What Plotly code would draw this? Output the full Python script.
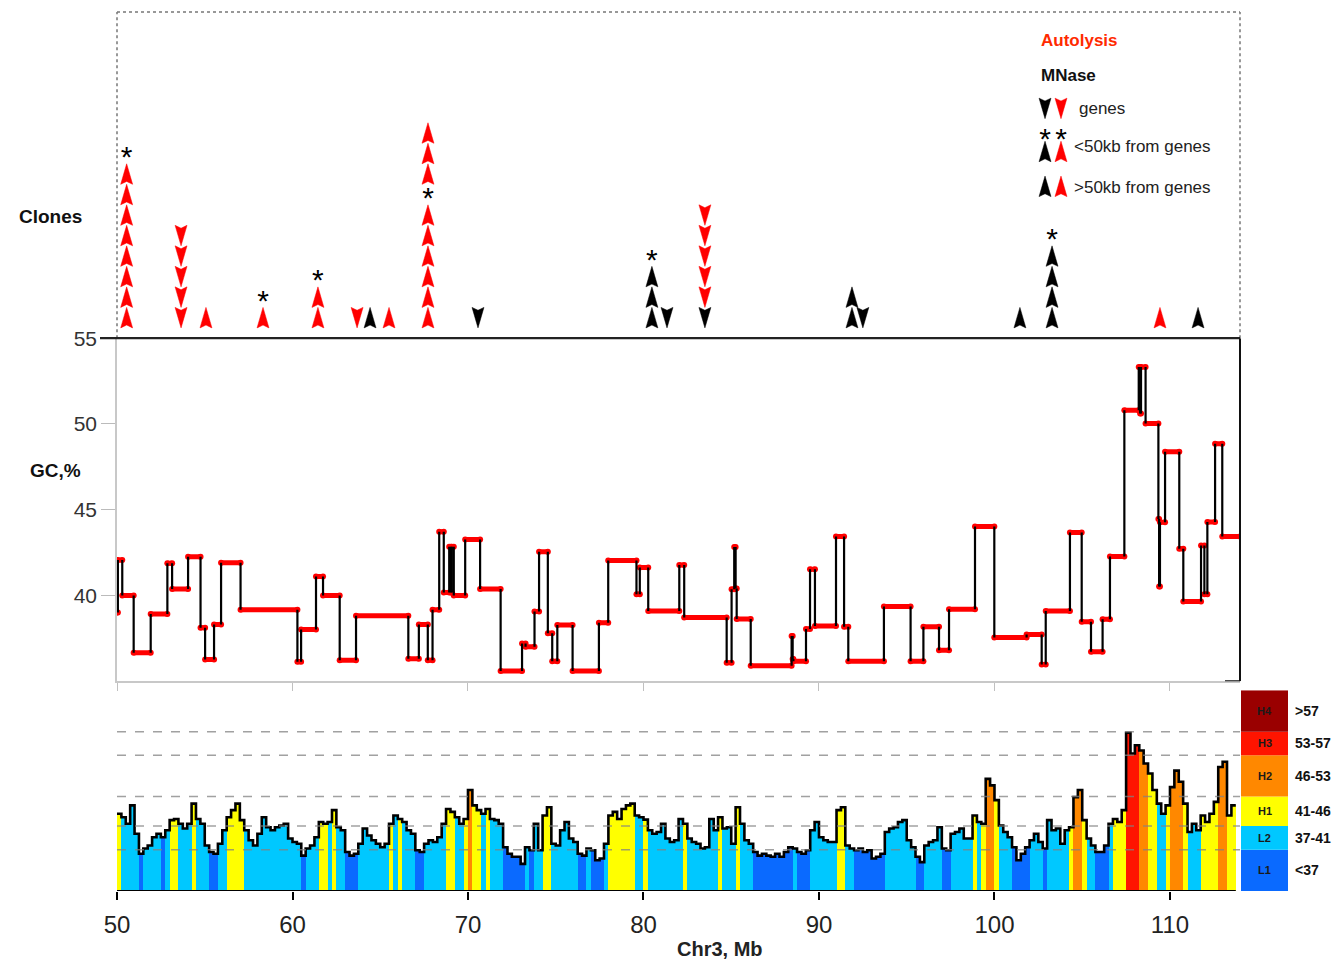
import plotly.graph_objects as go

# ---------------- DATA ----------------
# Top panel: cloned fragments stacked at each locus (Mb)
clone_pos   = [50.55, 53.65, 55.07, 58.32, 61.45, 63.68, 64.42, 65.5, 67.72, 70.57,
               80.48, 81.34, 83.5, 83.5, 91.88, 92.5, 101.45, 103.28, 109.43, 111.6]
clone_dir   = ['up', 'down', 'up', 'up', 'up', 'down', 'up', 'up', 'up', 'down',
               'up', 'down', 'down', 'down', 'up', 'down', 'up', 'up', 'up', 'up']
clone_set   = ['Autolysis', 'Autolysis', 'Autolysis', 'Autolysis', 'Autolysis', 'Autolysis', 'MNase',
               'Autolysis', 'Autolysis', 'MNase', 'MNase', 'MNase', 'MNase', 'Autolysis', 'MNase',
               'MNase', 'MNase', 'MNase', 'Autolysis', 'MNase']
clone_count = [8, 5, 1, 1, 2, 1, 1, 1, 9, 1, 3, 1, 1, 5, 2, 1, 1, 4, 1, 1]
clone_first = [1, 1, 1, 1, 1, 1, 1, 1, 1, 1, 1, 1, 1, 2, 1, 1, 1, 1, 1, 1]
clone_near  = [8, 0, 0, 1, 2, 0, 0, 0, 6, 0, 3, 0, 0, 0, 0, 0, 0, 4, 0, 0]   # clones <50kb (marked *)

# Middle panel: GC% segments (start Mb, GC%)
seg_start = [50.00, 50.05, 50.30, 50.95, 51.92, 52.87, 53.14, 54.05, 54.76, 55.02,
             55.53, 55.93, 57.04, 60.28, 60.49, 61.34, 61.74, 62.69, 63.62, 66.60,
             67.20, 67.71, 67.98, 68.36, 68.62, 68.93, 69.02, 69.08, 69.19, 69.84,
             70.69, 71.86, 73.08, 73.28, 73.79, 74.05, 74.55, 74.80, 75.09, 75.96,
             77.46, 77.99, 79.60, 79.79, 80.27, 82.04, 82.32, 84.74, 85.02, 85.17,
             85.25, 85.31, 86.11, 88.44, 88.50, 88.54, 89.26, 89.49, 89.77, 90.97,
             91.43, 91.67, 93.70, 95.22, 95.95, 96.84, 97.41, 98.89, 99.99, 101.83,
             102.69, 102.92, 104.30, 104.97, 105.50, 106.16, 106.58, 107.40, 108.22, 108.30,
             108.35, 108.61, 109.34, 109.38, 109.43, 109.72, 110.53, 110.76, 111.77, 111.96,
             112.13, 112.57, 112.98]
seg_gc    = [39.0, 42.07, 40.0, 36.66, 38.92, 41.87, 40.37, 42.26, 38.11, 36.27,
             38.30, 41.91, 39.17, 36.14, 38.01, 41.10, 40.0, 36.22, 38.82, 36.31,
             38.30, 36.22, 39.17, 43.71, 40.17, 42.84, 40.17, 42.84, 40.0, 43.26,
             40.37, 35.60, 37.20, 37.01, 39.07, 42.55, 37.79, 36.17, 38.27, 35.60,
             38.41, 42.04, 40.07, 41.63, 39.09, 41.78, 38.72, 36.07, 40.36, 42.82,
             40.4, 38.63, 35.90, 37.63, 36.3, 36.17, 38.04, 41.53, 38.22, 43.44,
             38.18, 36.17, 39.35, 36.17, 38.18, 36.81, 39.19, 44.02, 37.55, 37.73,
             35.98, 39.09, 43.67, 38.47, 36.71, 38.61, 42.27, 50.79, 53.32, 50.6,
             53.32, 50.03, 44.46, 40.52, 44.26, 48.37, 42.72, 39.64, 42.91, 40.07,
             44.28, 48.84, 43.44]
seg_end = 113.99

# Bottom panel: GC% in 250-kb windows starting at 50 Mb, and isochore class of each window
win_start = 50.0
win_size = 0.25
win_gc = [43.1, 42.5, 41.4, 44.5, 39.7, 36.3, 37.2, 37.7, 39.1, 39.7,
          39.1, 40.3, 42.0, 42.2, 41.4, 40.6, 41.4, 44.8, 42.2, 41.4,
          37.7, 36.6, 36.3, 38.0, 40.3, 42.5, 43.7, 44.8, 42.0, 40.3,
          38.6, 37.7, 39.7, 42.5, 40.8, 40.3, 40.8, 41.1, 41.4, 38.9,
          38.3, 38.0, 36.0, 37.2, 37.7, 39.1, 41.7, 41.4, 41.7, 43.7,
          40.8, 40.3, 36.6, 36.0, 36.3, 38.0, 40.6, 39.4, 38.6, 38.0,
          37.4, 38.0, 41.4, 42.8, 42.2, 41.7, 40.3, 39.7, 36.9, 36.6,
          38.0, 38.6, 38.3, 39.1, 41.4, 43.9, 43.4, 42.5, 41.4, 42.2,
          47.1, 44.5, 43.7, 43.1, 43.9, 42.2, 42.0, 41.4, 37.4, 36.3,
          35.8, 35.8, 34.6, 37.4, 36.9, 41.4, 36.9, 42.8, 44.2, 38.0,
          37.7, 40.3, 41.7, 38.9, 38.3, 36.3, 36.0, 37.2, 36.9, 35.2,
          35.5, 38.0, 42.8, 43.4, 42.2, 43.9, 44.5, 44.8, 42.8, 42.5,
          42.1, 40.3, 39.7, 40.0, 41.4, 38.9, 38.3, 38.6, 42.2, 41.4,
          38.9, 38.3, 38.0, 37.2, 37.4, 42.2, 40.3, 42.5, 40.6, 40.8,
          38.0, 44.2, 41.4, 38.6, 38.0, 36.6, 36.0, 36.3, 36.0, 35.8,
          36.3, 35.8, 36.6, 37.4, 37.2, 36.6, 36.3, 36.9, 40.3, 41.7,
          39.1, 38.6, 38.3, 38.3, 43.7, 44.2, 37.7, 37.2, 36.9, 37.2,
          36.6, 36.9, 35.5, 35.8, 36.3, 40.0, 40.6, 40.8, 41.7, 42.0,
          38.6, 37.4, 35.8, 34.9, 37.7, 38.3, 38.6, 40.8, 37.2, 36.9,
          39.7, 40.0, 40.6, 38.9, 38.9, 42.8, 41.7, 41.4, 49.0, 47.9,
          45.4, 41.1, 40.0, 39.1, 37.4, 35.2, 36.3, 37.4, 38.6, 39.7,
          38.3, 37.2, 42.0, 40.3, 40.6, 38.0, 40.3, 40.8, 45.9, 47.1,
          42.0, 38.9, 37.7, 36.6, 36.6, 37.7, 41.4, 42.2, 41.7, 43.7,
          56.8, 53.3, 54.7, 53.8, 51.6, 49.9, 47.1, 44.8, 43.1, 44.5,
          47.6, 50.4, 48.5, 44.8, 40.0, 41.4, 40.3, 42.8, 41.7, 43.1,
          45.1, 51.0, 51.9, 42.8, 44.5]
# class index per window: 0=L1 1=L2 2=H1 3=H2 4=H3 5=H4
win_class = [2, 1, 1, 1, 1, 0, 1, 1, 1, 1,
             0, 1, 2, 2, 1, 1, 1, 2, 1, 1,
             1, 0, 0, 1, 1, 2, 2, 2, 2, 1,
             1, 1, 1, 1, 1, 1, 1, 1, 1, 1,
             1, 1, 0, 1, 1, 1, 2, 2, 1, 2,
             1, 1, 0, 0, 0, 1, 1, 1, 1, 1,
             1, 1, 2, 1, 2, 1, 1, 1, 0, 0,
             1, 1, 1, 1, 1, 2, 2, 1, 1, 2,
             3, 2, 2, 1, 2, 1, 1, 1, 0, 0,
             0, 0, 0, 1, 0, 1, 1, 2, 2, 1,
             1, 1, 1, 1, 1, 0, 0, 1, 0, 0,
             0, 1, 2, 2, 2, 2, 2, 2, 1, 1,
             2, 1, 1, 1, 1, 1, 1, 1, 1, 2,
             1, 1, 1, 1, 1, 1, 1, 2, 1, 1,
             1, 2, 1, 1, 1, 0, 0, 0, 0, 0,
             0, 0, 0, 0, 1, 0, 0, 0, 1, 1,
             1, 1, 1, 1, 2, 2, 1, 1, 0, 0,
             0, 0, 0, 0, 0, 1, 1, 1, 1, 1,
             1, 1, 0, 0, 1, 1, 1, 1, 0, 0,
             1, 1, 1, 1, 1, 2, 1, 2, 3, 3,
             2, 1, 1, 1, 0, 0, 0, 0, 1, 1,
             1, 0, 1, 1, 1, 1, 1, 2, 3, 3,
             2, 1, 1, 0, 0, 0, 1, 2, 2, 2,
             4, 4, 4, 3, 3, 2, 2, 1, 1, 2,
             3, 3, 3, 2, 1, 1, 1, 2, 2, 2,
             2, 3, 3, 2, 2]

# Isochore classes
class_names  = ['L1', 'L2', 'H1', 'H2', 'H3', 'H4']
class_bounds = [30, 37, 41, 46, 53, 57, 64]
class_labels = ['<37', '37-41', '41-46', '46-53', '53-57', '>57']
class_colors = ['#0a6aff', '#00c8ff', '#ffff00', '#ff8800', '#ff1400', '#9a0000']

x_ticks  = [50, 60, 70, 80, 90, 100, 110]
gc_ticks = [40, 45, 50, 55]

set_colors = {'Autolysis': '#ff0000', 'MNase': '#000000'}

# ---------------- STYLE ----------------
X_RANGE = [50, 113.99]
FONT = 'Liberation Sans, Arial, sans-serif'
HW = 0.34   # half width of a triangle glyph (Mb)


def tri_path(xc, lev, d):
    if d == 'up':
        ys = [lev + 0.5, lev - 0.5, lev - 0.36, lev - 0.5, lev + 0.5, None]
    else:
        ys = [lev - 0.5, lev + 0.5, lev + 0.36, lev + 0.5, lev - 0.5, None]
    return [xc, xc + HW, xc, xc - HW, xc, None], ys


fig = go.Figure()

# ---- bottom panel ----
win_x = [win_start + win_size * (i + 0.5) for i in range(len(win_gc))]
fig.add_trace(go.Bar(x=win_x, y=win_gc, width=win_size,
                     marker=dict(color=[class_colors[c] for c in win_class], line=dict(width=0)),
                     xaxis='x', yaxis='y', hoverinfo='skip'))
edges = [win_start + win_size * i for i in range(len(win_gc) + 1)]
fig.add_trace(go.Scatter(x=edges, y=win_gc + [win_gc[-1]], mode='lines', line_shape='hv',
                         line=dict(color='black', width=2.6), xaxis='x', yaxis='y', hoverinfo='skip'))

# ---- middle panel ----
rx, ry, bx, by = [], [], [], []
for i, (s, v) in enumerate(zip(seg_start, seg_gc)):
    e = seg_start[i + 1] if i + 1 < len(seg_start) else seg_end
    rx += [s, e, None]
    ry += [v, v, None]
    if i > 0:
        bx += [s, s, None]
        by += [seg_gc[i - 1], v, None]
fig.add_trace(go.Scatter(x=rx, y=ry, mode='lines+markers', line=dict(color='#ff0000', width=5),
                         marker=dict(color='#ff0000', size=6), xaxis='x2', yaxis='y2', hoverinfo='skip'))
fig.add_trace(go.Scatter(x=bx, y=by, mode='lines', line=dict(color='black', width=2.2),
                         xaxis='x2', yaxis='y2', hoverinfo='skip'))

# ---- top panel ----
tri = {k: ([], []) for k in set_colors}
sx, sy = [], []
for p, d, st, n, f, near in zip(clone_pos, clone_dir, clone_set, clone_count, clone_first, clone_near):
    for j in range(n):
        lev = f + j + (1 if (near and j >= near) else 0)
        xs, ys = tri_path(p, lev, d)
        tri[st][0].extend(xs)
        tri[st][1].extend(ys)
    if near:
        sx.append(p)
        sy.append(f + near - 1 + 0.7)

# legend glyphs
LEG_X = [102.88, 103.79]
LEG_SET = ['MNase', 'Autolysis']
LEG_ROWS = [('down', 11.2, False), ('up', 9.1, True), ('up', 7.4, False)]
for lx, st in zip(LEG_X, LEG_SET):
    for d, lev, star in LEG_ROWS:
        xs, ys = tri_path(lx, lev, d)
        tri[st][0].extend(xs)
        tri[st][1].extend(ys)
        if star:
            sx.append(lx)
            sy.append(lev + 0.5)

for st, (xs, ys) in tri.items():
    fig.add_trace(go.Scatter(x=xs, y=ys, mode='lines', fill='toself', fillcolor=set_colors[st],
                             line=dict(color=set_colors[st], width=0.5), xaxis='x3', yaxis='y3',
                             hoverinfo='skip'))
fig.add_trace(go.Scatter(x=sx, y=sy, mode='text', text=['*'] * len(sx), textposition='middle center',
                         textfont=dict(size=30, color='black', family=FONT), xaxis='x3', yaxis='y3',
                         hoverinfo='skip'))

# ---------------- LAYOUT ----------------
# page pixel -> paper fraction (plot area spans x 117..1240, y 12..890.6 on the page)
def ppy(py):
    return (890.6 - py) / 878.6


def ppx(px):
    return (px - 117) / 1123.0

TOP0 = ppy(338)
MID0 = ppy(680.9)
BOT1 = ppy(690)

shapes = []
for b in class_bounds[1:-1]:
    shapes.append(dict(type='line', xref='x', yref='y', x0=X_RANGE[0], x1=X_RANGE[1], y0=b, y1=b,
                       line=dict(color='rgba(130,130,130,0.75)', width=1.5, dash='dash'), layer='above'))
shapes.append(dict(type='line', xref='x', yref='y', x0=X_RANGE[0], x1=edges[-1], y0=30, y1=30,
                   line=dict(color='black', width=2)))
for k in range(len(class_names)):
    shapes.append(dict(type='rect', xref='paper', yref='y', x0=ppx(1241), x1=ppx(1288),
                       y0=class_bounds[k], y1=class_bounds[k + 1],
                       fillcolor=class_colors[k], line=dict(width=0)))
shapes += [
    dict(type='line', xref='paper', yref='paper', x0=0, x1=1, y0=1, y1=1,
         line=dict(color='#777', width=1.5, dash='dot')),
    dict(type='line', xref='paper', yref='paper', x0=0, x1=0, y0=TOP0, y1=1,
         line=dict(color='#777', width=1.5, dash='dot')),
    dict(type='line', xref='paper', yref='paper', x0=1, x1=1, y0=TOP0, y1=1,
         line=dict(color='#777', width=1.5, dash='dot')),
    dict(type='line', xref='paper', yref='paper', x0=ppx(100), x1=1, y0=TOP0, y1=TOP0,
         line=dict(color='#222', width=2.2)),
    dict(type='line', xref='paper', yref='y2', x0=1, x1=1, y0=35, y1=55,
         line=dict(color='#111', width=2)),
    dict(type='line', xref='paper', yref='y2', x0=ppx(1225), x1=1, y0=35, y1=35,
         line=dict(color='#111', width=2)),
]


def ann(text, px, py, size, color='#222', xanchor='center', yref='paper', y=None):
    return dict(text=text, xref='paper', yref=yref, x=ppx(px), y=ppy(py) if y is None else y,
                xanchor=xanchor, yanchor='middle', showarrow=False,
                font=dict(size=size, color=color, family=FONT))

annotations = [
    ann('<b>Clones</b>', 50, 216, 19, '#111'),
    ann('<b>GC,%</b>', 55, 470, 19, '#111'),
    ann('<b>Chr3, Mb</b>', 720, 949, 20, '#222'),
    ann('<b>Autolysis</b>', 1039, 40, 17, '#ff2a00', 'left'),
    ann('<b>MNase</b>', 1039, 75, 17, '#111', 'left'),
    ann('genes', 1077, 108, 17, '#222', 'left'),
    ann('<50kb from genes', 1072, 146, 17, '#222', 'left'),
    ann('>50kb from genes', 1072, 187, 17, '#222', 'left'),
]
for k in range(len(class_names)):
    mid = (class_bounds[k] + class_bounds[k + 1]) / 2
    annotations.append(ann('<b>' + class_names[k] + '</b>', 1264.5, 0, 11, '#1a1a1a', yref='y', y=mid))
    annotations.append(ann('<b>' + class_labels[k] + '</b>', 1293, 0, 14, '#111', 'left', yref='y', y=mid))

# the page body adds an 8 px offset, so the figure is 8 px smaller on each side
fig.update_layout(
    template='none',
    width=1336, height=953,
    margin=dict(l=109, r=104, t=4, b=70.4),
    paper_bgcolor='white', plot_bgcolor='white',
    showlegend=False, bargap=0,
    font=dict(family=FONT, color='#222'),
    xaxis=dict(domain=[0, 1], range=X_RANGE, anchor='y', showline=False, showgrid=False, zeroline=False,
               automargin=False, ticks='outside', ticklen=8, tickwidth=2, tickcolor='black',
               tickvals=x_ticks, ticklabelstandoff=4,
               tickfont=dict(size=24, color='#222', family=FONT)),
    yaxis=dict(domain=[0, BOT1], range=[30, 64], anchor='x', visible=False, automargin=False),
    xaxis2=dict(domain=[0, 1], range=X_RANGE, anchor='y2', showline=True, linecolor='#c8c8c8', linewidth=1.5,
                showgrid=False, zeroline=False, automargin=False, ticks='outside', ticklen=8,
                tickcolor='#c0c0c0', tickvals=x_ticks, showticklabels=False),
    yaxis2=dict(domain=[MID0, TOP0], range=[35, 55], anchor='x2', showline=True, linecolor='#c8c8c8',
                linewidth=1.5, showgrid=False, zeroline=False, automargin=False, ticks='outside', ticklen=14,
                tickcolor='#bbbbbb', tickvals=gc_ticks, tickfont=dict(size=21, color='#333', family=FONT)),
    xaxis3=dict(domain=[0, 1], range=X_RANGE, anchor='y3', visible=False, automargin=False),
    yaxis3=dict(domain=[TOP0, 1], range=[0, 15.9], anchor='x3', visible=False, automargin=False),
    shapes=shapes,
    annotations=annotations,
)

fig.write_html('out.html')
